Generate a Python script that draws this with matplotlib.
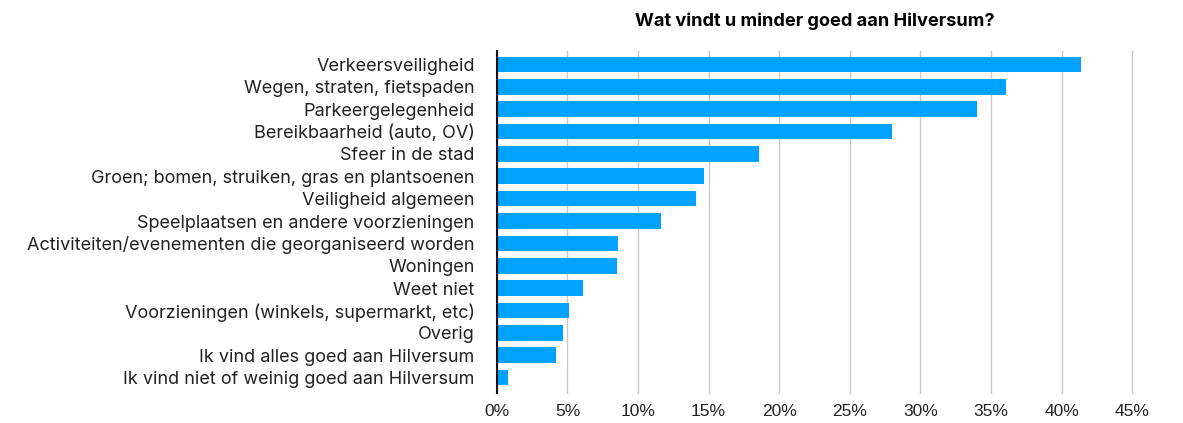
import matplotlib.pyplot as plt
from matplotlib.ticker import FuncFormatter

# antwoorden en percentages (aflopend)
categories = [
    "Verkeersveiligheid",
    "Wegen, straten, fietspaden",
    "Parkeergelegenheid",
    "Bereikbaarheid (auto, OV)",
    "Sfeer in de stad",
    "Groen; bomen, struiken, gras en plantsoenen",
    "Veiligheid algemeen",
    "Speelplaatsen en andere voorzieningen",
    "Activiteiten/evenementen die georganiseerd worden",
    "Woningen",
    "Weet niet",
    "Voorzieningen (winkels, supermarkt, etc)",
    "Overig",
    "Ik vind alles goed aan Hilversum",
    "Ik vind niet of weinig goed aan Hilversum",
]
values = [41.4, 36.1, 34.0, 28.0, 18.6, 14.7, 14.1, 11.6, 8.6, 8.5, 6.1, 5.1, 4.7, 4.2, 0.8]
xticks = [0, 5, 10, 15, 20, 25, 30, 35, 40, 45]
title = "Wat vindt u minder goed aan Hilversum?"

fig = plt.figure(figsize=(11.83, 4.23), dpi=100)
ax = fig.add_axes([0.420, 0.071, 0.537, 0.808])

pos = list(range(len(categories)))
ax.barh(pos, values, height=0.7, color="#00a2ff", zorder=3)
ax.set_yticks(pos)
ax.set_yticklabels(categories, fontfamily="Inter", fontsize=13, color="#222222")
ax.set_ylim(14.69, -0.594)

ax.set_xlim(0, 45)
ax.set_xticks(xticks)
ax.xaxis.set_major_formatter(FuncFormatter(lambda v, p: "%d%%" % v))
for lab in ax.get_xticklabels():
    lab.set_fontfamily("Liberation Sans")
    lab.set_fontsize(12.5)
    lab.set_color("#222222")

ax.grid(axis="x", color="#c8c8c8", linewidth=1, zorder=0)
for gl in ax.get_xgridlines():
    gl.set_clip_on(False)
ax.tick_params(axis="both", length=0)
ax.tick_params(axis="y", pad=16)
ax.tick_params(axis="x", pad=8)
for s in ["top", "right", "bottom"]:
    ax.spines[s].set_visible(False)
ax.spines["left"].set_color("#111111")
ax.spines["left"].set_linewidth(1.5)
ax.spines["left"].set_zorder(4)

ax.set_title(title, fontfamily="Inter", fontweight="bold", fontsize=13.1, pad=18)

fig.savefig("out.png", dpi=100)
